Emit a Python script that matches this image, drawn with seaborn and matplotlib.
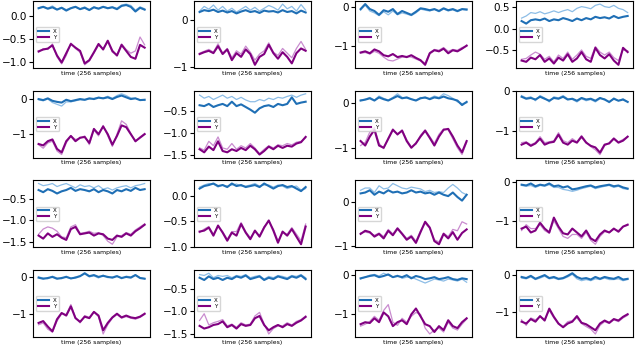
import numpy as np
import seaborn as sns
import matplotlib.pyplot as plt

# values, 24 samples per trace, panels row by row
x_dark = [
    [0.17, 0.2, 0.16, 0.19, 0.14, 0.18, 0.12, 0.17, 0.2, 0.15, 0.18, 0.13, 0.19, 0.16, 0.2, 0.17, 0.19, 0.15, 0.22, 0.24, 0.2, 0.1, 0.18, 0.14],
    [0.18, 0.22, 0.2, 0.23, 0.18, 0.21, 0.17, 0.2, 0.15, 0.19, 0.22, 0.18, 0.2, 0.16, 0.21, 0.19, 0.2, 0.17, 0.22, 0.18, 0.2, 0.15, 0.21, 0.17],
    [-0.05, 0.08, -0.05, -0.1, -0.2, -0.08, -0.12, -0.05, -0.18, -0.1, -0.15, -0.2, -0.12, -0.03, -0.05, -0.08, -0.05, -0.1, -0.03, -0.08, -0.05, -0.1, -0.05, -0.06],
    [0.18, 0.12, 0.2, 0.22, 0.2, 0.24, 0.18, 0.22, 0.2, 0.25, 0.22, 0.18, 0.24, 0.2, 0.25, 0.22, 0.28, 0.25, 0.27, 0.24, 0.3, 0.25, 0.28, 0.3],
    [0.0, -0.03, 0.02, -0.05, -0.08, -0.1, -0.02, -0.06, -0.03, 0.0, -0.02, 0.02, 0.0, 0.04, 0.02, 0.05, 0.0, 0.06, 0.1, 0.05, 0.0, 0.02, -0.03, -0.02],
    [-0.38, -0.4, -0.35, -0.42, -0.38, -0.35, -0.4, -0.3, -0.4, -0.36, -0.42, -0.48, -0.55, -0.45, -0.4, -0.38, -0.42, -0.35, -0.38, -0.35, -0.2, -0.35, -0.32, -0.3],
    [0.05, 0.07, 0.1, 0.05, 0.12, 0.08, 0.05, 0.1, 0.15, 0.1, 0.12, 0.08, 0.05, 0.1, 0.12, 0.08, 0.12, 0.1, 0.14, 0.1, 0.08, 0.05, -0.05, 0.02],
    [-0.15, -0.2, -0.18, -0.22, -0.15, -0.2, -0.25, -0.18, -0.2, -0.15, -0.22, -0.2, -0.25, -0.18, -0.22, -0.2, -0.25, -0.18, -0.22, -0.28, -0.2, -0.25, -0.22, -0.28],
    [-0.3, -0.35, -0.28, -0.32, -0.38, -0.33, -0.3, -0.25, -0.32, -0.28, -0.3, -0.33, -0.28, -0.35, -0.3, -0.33, -0.38, -0.3, -0.33, -0.28, -0.32, -0.25, -0.3, -0.28],
    [0.15, 0.2, 0.22, 0.25, 0.2, 0.22, 0.18, 0.25, 0.2, 0.22, 0.18, 0.2, 0.22, 0.18, 0.25, 0.2, 0.15, 0.2, 0.22, 0.18, 0.2, 0.15, 0.1, 0.18],
    [0.18, 0.2, 0.25, 0.15, 0.22, 0.18, 0.25, 0.2, 0.22, 0.18, 0.2, 0.25, 0.2, 0.22, 0.18, 0.2, 0.15, 0.2, 0.15, 0.12, 0.2, 0.1, 0.02, 0.15],
    [-0.08, -0.1, -0.05, -0.12, -0.08, -0.1, -0.05, -0.12, -0.1, -0.15, -0.12, -0.2, -0.18, -0.15, -0.12, -0.1, -0.15, -0.12, -0.1, -0.08, -0.12, -0.1, -0.15, -0.18],
    [-0.02, -0.05, -0.03, 0.0, -0.05, -0.03, 0.0, -0.04, -0.02, 0.02, 0.1, 0.02, 0.05, 0.0, 0.03, 0.0, -0.02, 0.02, -0.03, 0.0, -0.02, 0.05, -0.03, -0.05],
    [-0.25, -0.3, -0.22, -0.28, -0.25, -0.3, -0.25, -0.28, -0.22, -0.25, -0.2, -0.28, -0.25, -0.22, -0.3, -0.25, -0.28, -0.22, -0.25, -0.28, -0.22, -0.25, -0.2, -0.28],
    [-0.08, -0.05, -0.02, 0.0, -0.05, -0.02, 0.02, -0.05, -0.02, -0.05, 0.0, -0.08, -0.02, -0.05, -0.1, -0.08, -0.05, -0.1, -0.08, -0.05, -0.1, -0.12, -0.08, -0.1],
    [-0.05, -0.08, -0.02, -0.1, -0.05, 0.0, -0.08, -0.05, -0.1, -0.08, -0.02, 0.05, -0.05, -0.1, -0.08, -0.12, -0.05, -0.1, -0.05, -0.08, -0.1, -0.05, -0.12, -0.1],
]
x_light = [
    [0.18, 0.21, 0.17, 0.22, 0.15, 0.19, 0.14, 0.18, 0.21, 0.16, 0.2, 0.14, 0.2, 0.17, 0.21, 0.18, 0.2, 0.17, 0.24, 0.26, 0.23, 0.13, 0.2, 0.16],
    [0.2, 0.3, 0.24, 0.33, 0.22, 0.3, 0.2, 0.26, 0.18, 0.24, 0.3, 0.22, 0.28, 0.2, 0.26, 0.32, 0.28, 0.22, 0.35, 0.25, 0.3, 0.2, 0.34, 0.22],
    [-0.08, 0.05, -0.1, -0.15, -0.22, -0.12, -0.2, -0.1, -0.2, -0.15, -0.18, -0.22, -0.15, -0.05, -0.08, -0.1, -0.06, -0.12, -0.05, -0.1, -0.07, -0.12, -0.06, -0.08],
    [0.25, 0.3, 0.38, 0.36, 0.4, 0.35, 0.38, 0.42, 0.38, 0.42, 0.45, 0.4, 0.48, 0.52, 0.5, 0.47, 0.55, 0.58, 0.52, 0.5, 0.55, 0.48, 0.45, 0.38],
    [-0.02, -0.05, 0.0, -0.1, -0.15, -0.2, -0.08, -0.08, -0.05, -0.02, -0.03, 0.0, 0.02, 0.05, 0.03, 0.08, 0.02, 0.1, 0.15, 0.1, 0.03, 0.02, -0.02, -0.04],
    [-0.15, -0.22, -0.18, -0.25, -0.2, -0.15, -0.22, -0.18, -0.25, -0.2, -0.26, -0.3, -0.3, -0.25, -0.28, -0.22, -0.25, -0.2, -0.22, -0.18, -0.15, -0.2, -0.15, -0.12],
    [0.06, 0.08, 0.12, 0.06, 0.15, 0.1, 0.06, 0.12, 0.2, 0.12, 0.1, 0.08, 0.06, 0.12, 0.1, 0.1, 0.15, 0.12, 0.2, 0.16, 0.1, 0.02, -0.02, 0.0],
    [-0.12, -0.18, -0.15, -0.25, -0.12, -0.18, -0.28, -0.15, -0.18, -0.12, -0.2, -0.22, -0.28, -0.2, -0.25, -0.22, -0.28, -0.2, -0.2, -0.3, -0.18, -0.25, -0.2, -0.28],
    [-0.15, -0.2, -0.18, -0.15, -0.22, -0.18, -0.15, -0.2, -0.25, -0.18, -0.22, -0.2, -0.25, -0.2, -0.28, -0.25, -0.3, -0.25, -0.22, -0.2, -0.25, -0.2, -0.18, -0.15],
    [0.18, 0.22, 0.25, 0.24, 0.18, 0.22, 0.2, 0.22, 0.24, 0.2, 0.2, 0.22, 0.25, 0.2, 0.22, 0.22, 0.18, 0.22, 0.2, 0.15, 0.18, 0.2, 0.12, 0.15],
    [0.25, 0.3, 0.3, 0.2, 0.35, 0.28, 0.3, 0.4, 0.35, 0.3, 0.28, 0.32, 0.3, 0.28, 0.22, 0.25, 0.2, 0.22, 0.2, 0.3, 0.38, 0.3, 0.2, 0.15],
    [-0.1, -0.12, -0.1, -0.15, -0.1, -0.12, -0.08, -0.15, -0.15, -0.2, -0.22, -0.25, -0.22, -0.18, -0.15, -0.12, -0.18, -0.15, -0.12, -0.1, -0.15, -0.12, -0.18, -0.2],
    [0.0, -0.03, -0.05, 0.02, -0.03, -0.05, 0.02, -0.05, 0.0, 0.03, 0.08, 0.0, 0.03, -0.03, 0.05, -0.02, 0.0, 0.03, -0.05, 0.02, 0.0, 0.06, -0.02, -0.04],
    [-0.18, -0.2, -0.15, -0.25, -0.2, -0.22, -0.2, -0.25, -0.2, -0.22, -0.18, -0.25, -0.22, -0.2, -0.28, -0.22, -0.25, -0.2, -0.22, -0.25, -0.2, -0.22, -0.18, -0.25],
    [-0.1, -0.05, 0.0, 0.02, -0.02, 0.05, 0.0, -0.05, 0.0, -0.08, -0.05, -0.05, -0.1, -0.15, -0.2, -0.15, -0.1, -0.12, -0.15, -0.1, -0.12, -0.15, -0.1, -0.18],
    [-0.08, -0.1, -0.05, -0.12, -0.08, -0.03, -0.1, -0.08, -0.12, -0.1, -0.05, 0.02, -0.1, -0.15, -0.12, -0.15, -0.1, -0.12, -0.08, -0.12, -0.12, -0.1, -0.15, -0.12],
]
y_dark = [
    [-0.76, -0.72, -0.7, -0.63, -0.85, -1.0, -0.8, -0.6, -0.68, -0.75, -1.02, -0.95, -0.78, -0.6, -0.72, -0.53, -0.75, -0.85, -0.62, -0.75, -0.88, -0.92, -0.62, -0.68],
    [-0.72, -0.68, -0.65, -0.7, -0.55, -0.72, -0.62, -0.85, -0.7, -0.78, -0.62, -0.72, -0.95, -0.78, -0.72, -0.52, -0.7, -0.82, -0.68, -0.78, -0.92, -0.7, -0.6, -0.65],
    [-1.18, -1.15, -1.2, -1.1, -1.15, -1.25, -1.28, -1.22, -1.3, -1.27, -1.3, -1.25, -1.32, -1.38, -1.5, -1.2, -1.12, -1.15, -1.08, -1.2, -1.12, -1.15, -1.08, -1.0],
    [-0.75, -0.78, -0.68, -0.72, -0.62, -0.78, -0.7, -0.82, -0.68, -0.75, -0.6, -0.78, -0.7, -0.55, -0.72, -0.78, -0.45, -0.62, -0.7, -0.6, -0.75, -0.85, -0.45, -0.55],
    [-1.28, -1.32, -1.2, -1.15, -1.42, -1.52, -1.2, -1.05, -1.2, -1.1, -1.08, -1.25, -0.85, -1.0, -0.78, -1.0, -1.3, -1.05, -0.75, -0.8, -1.0, -1.2, -1.1, -1.0],
    [-1.38, -1.45, -1.32, -1.4, -1.2, -1.42, -1.45, -1.38, -1.42, -1.35, -1.4, -1.3, -1.38, -1.5, -1.42, -1.32, -1.38, -1.3, -1.35, -1.3, -1.32, -1.25, -1.22, -1.1],
    [-0.85, -0.95, -0.75, -0.6, -0.95, -1.0, -0.8, -0.6, -0.7, -0.62, -0.85, -1.0, -0.9, -0.75, -0.62, -0.78, -0.95, -0.75, -0.6, -0.58, -0.75, -0.95, -1.1, -0.85],
    [-1.35, -1.3, -1.38, -1.32, -1.2, -1.35, -1.3, -1.28, -1.1, -1.3, -1.35, -1.25, -1.3, -1.15, -1.3, -1.38, -1.42, -1.55, -1.35, -1.32, -1.2, -1.3, -1.25, -1.15],
    [-1.35, -1.42, -1.3, -1.38, -1.32, -1.4, -1.45, -1.2, -1.15, -1.32, -1.3, -1.28, -1.35, -1.3, -1.32, -1.42, -1.45, -1.35, -1.38, -1.3, -1.35, -1.25, -1.18, -1.1],
    [-0.7, -0.68, -0.62, -0.78, -0.58, -0.72, -0.88, -0.72, -0.78, -0.55, -0.72, -0.85, -0.68, -0.8, -0.62, -0.48, -0.68, -0.92, -0.7, -0.78, -0.65, -0.8, -0.95, -0.6],
    [-0.72, -0.65, -0.68, -0.78, -0.72, -0.82, -0.65, -0.75, -0.6, -0.72, -0.85, -0.78, -0.92, -0.68, -0.45, -0.58, -0.88, -0.95, -0.72, -0.82, -0.68, -0.85, -0.7, -0.62],
    [-1.2, -1.15, -1.3, -1.25, -1.05, -1.2, -1.3, -0.92, -1.15, -1.32, -1.35, -1.2, -1.3, -1.4, -1.25, -1.45, -1.52, -1.35, -1.25, -1.3, -1.2, -1.28, -1.15, -1.1],
    [-1.25, -1.2, -1.35, -1.48, -1.15, -0.98, -1.05, -0.8, -1.12, -1.22, -1.08, -1.12, -0.95, -1.05, -1.45, -1.25, -1.1, -1.0, -1.1, -1.05, -1.1, -1.12, -1.08, -1.0],
    [-1.32, -1.38, -1.35, -1.3, -1.28, -1.22, -1.35, -1.3, -1.38, -1.28, -1.32, -1.3, -1.15, -1.1, -1.3, -1.42, -1.35, -1.3, -1.35, -1.28, -1.32, -1.25, -1.2, -1.12],
    [-1.25, -1.2, -1.22, -1.1, -1.2, -0.95, -1.05, -1.3, -1.2, -1.15, -1.25, -1.0, -0.85, -1.05, -1.25, -1.3, -1.45, -1.3, -1.4, -1.15, -1.3, -1.35, -1.2, -1.1],
    [-1.25, -1.3, -1.18, -1.25, -1.1, -1.22, -0.9, -1.12, -1.3, -1.4, -1.3, -1.25, -1.1, -1.28, -1.32, -1.4, -1.48, -1.3, -1.22, -1.28, -1.18, -1.22, -1.12, -1.05],
]
y_light = [
    [-0.78, -0.7, -0.72, -0.6, -0.88, -1.03, -0.85, -0.58, -0.7, -0.78, -1.05, -0.97, -0.8, -0.63, -0.7, -0.55, -0.78, -0.83, -0.6, -0.72, -0.8, -0.75, -0.45, -0.62],
    [-0.7, -0.66, -0.62, -0.68, -0.5, -0.7, -0.6, -0.8, -0.65, -0.72, -0.55, -0.68, -0.85, -0.72, -0.65, -0.48, -0.68, -0.75, -0.6, -0.7, -0.8, -0.6, -0.45, -0.62],
    [-1.2, -1.18, -1.22, -1.15, -1.2, -1.3, -1.38, -1.4, -1.35, -1.3, -1.28, -1.3, -1.35, -1.4, -1.45, -1.18, -1.1, -1.12, -1.05, -1.15, -1.1, -1.12, -1.05, -1.02],
    [-0.72, -0.7, -0.62, -0.55, -0.6, -0.72, -0.65, -0.78, -0.62, -0.7, -0.55, -0.72, -0.62, -0.5, -0.65, -0.7, -0.42, -0.55, -0.62, -0.55, -0.68, -0.75, -0.5, -0.52],
    [-1.3, -1.4, -1.25, -1.2, -1.48, -1.58, -1.25, -1.05, -1.15, -1.12, -1.05, -1.3, -0.88, -1.05, -0.75, -1.05, -1.35, -1.0, -0.62, -0.72, -0.98, -1.22, -1.08, -0.98],
    [-1.35, -1.4, -1.2, -1.3, -1.1, -1.35, -1.38, -1.25, -1.38, -1.3, -1.35, -1.25, -1.35, -1.48, -1.38, -1.3, -1.35, -1.28, -1.3, -1.25, -1.28, -1.22, -1.2, -1.12],
    [-0.95, -0.88, -0.65, -0.55, -0.9, -1.02, -0.78, -0.58, -0.72, -0.6, -0.82, -0.98, -0.92, -0.72, -0.6, -0.75, -0.9, -0.7, -0.58, -0.6, -0.8, -1.0, -1.15, -0.88],
    [-1.3, -1.28, -1.35, -1.3, -1.15, -1.3, -1.28, -1.25, -1.05, -1.25, -1.3, -1.2, -1.28, -1.12, -1.28, -1.4, -1.48, -1.6, -1.38, -1.3, -1.18, -1.28, -1.22, -1.15],
    [-1.32, -1.2, -1.15, -1.18, -1.25, -1.38, -1.4, -1.15, -1.1, -1.3, -1.28, -1.25, -1.3, -1.28, -1.35, -1.48, -1.55, -1.38, -1.35, -1.28, -1.32, -1.22, -1.15, -1.08],
    [-0.72, -0.65, -0.6, -0.75, -0.6, -0.7, -0.85, -0.7, -0.7, -0.52, -0.7, -0.82, -0.7, -0.78, -0.6, -0.5, -0.65, -0.88, -0.72, -0.75, -0.62, -0.75, -0.88, -0.55],
    [-0.7, -0.68, -0.7, -0.75, -0.7, -0.78, -0.62, -0.72, -0.58, -0.7, -0.82, -0.75, -0.88, -0.65, -0.48, -0.6, -0.85, -0.9, -0.7, -0.78, -0.62, -0.65, -0.45, -0.5],
    [-1.25, -1.1, -1.2, -1.2, -1.1, -1.25, -1.32, -1.0, -1.2, -1.4, -1.45, -1.35, -1.35, -1.45, -1.3, -1.5, -1.6, -1.4, -1.28, -1.3, -1.22, -1.25, -1.15, -1.12],
    [-1.3, -1.25, -1.42, -1.5, -1.2, -1.0, -1.02, -0.75, -1.1, -1.25, -1.05, -1.1, -0.95, -1.08, -1.55, -1.3, -1.12, -1.02, -1.12, -1.08, -1.12, -1.15, -1.1, -1.02],
    [-1.2, -1.05, -1.3, -1.25, -1.22, -1.18, -1.32, -1.28, -1.35, -1.25, -1.3, -1.28, -1.1, -1.02, -1.28, -1.5, -1.38, -1.32, -1.32, -1.25, -1.3, -1.22, -1.18, -1.1],
    [-1.3, -1.25, -1.18, -1.05, -1.15, -0.9, -0.75, -1.2, -1.28, -1.1, -1.2, -1.05, -0.95, -1.0, -1.35, -1.5, -1.4, -1.35, -1.45, -1.2, -1.35, -1.4, -1.25, -1.12],
    [-1.2, -1.35, -1.15, -1.2, -1.12, -1.18, -0.95, -1.15, -1.32, -1.38, -1.25, -1.22, -1.15, -1.3, -1.38, -1.45, -1.58, -1.35, -1.25, -1.3, -1.2, -1.25, -1.15, -1.08],
]
y_ticks = [
    [0.0, -0.5, -1.0], [0, -1], [0, -1], [0.5, 0.0, -0.5],
    [0, -1], [-0.5, -1.0, -1.5], [0, -1], [0, -1],
    [-0.5, -1.0, -1.5], [0.0, -0.5, -1.0], [0, -1], [0, -1],
    [0, -1], [-0.5, -1.0, -1.5], [0, -1], [0, -1],
]
t = np.linspace(0, 255, 24)

fig, axes = plt.subplots(4, 4, figsize=(6.4, 3.46), dpi=100)
fig.subplots_adjust(left=0.052, right=0.989, top=0.997, bottom=0.026, wspace=0.38, hspace=0.343)

for i, ax in enumerate(axes.flat):
    sns.lineplot(x=t, y=x_light[i], ax=ax, color='#8dbde6', linewidth=0.9)
    sns.lineplot(x=t, y=y_light[i], ax=ax, color='#c98ccf', linewidth=0.9)
    sns.lineplot(x=t, y=x_dark[i], ax=ax, color='#1f6fb5', linewidth=1.5, label='X')
    sns.lineplot(x=t, y=y_dark[i], ax=ax, color='#800080', linewidth=1.5, label='Y')
    ax.set_xticks([])
    ax.set_yticks(y_ticks[i])
    ax.tick_params(axis='y', labelsize=7.5, length=3, pad=1.5)
    ax.set_xlabel('time (256 samples)', fontsize=4.4, labelpad=2)
    ax.legend(loc='center left', fontsize=4, handlelength=2, borderpad=0.3, labelspacing=0.2)

plt.savefig('out.png', dpi=100)
